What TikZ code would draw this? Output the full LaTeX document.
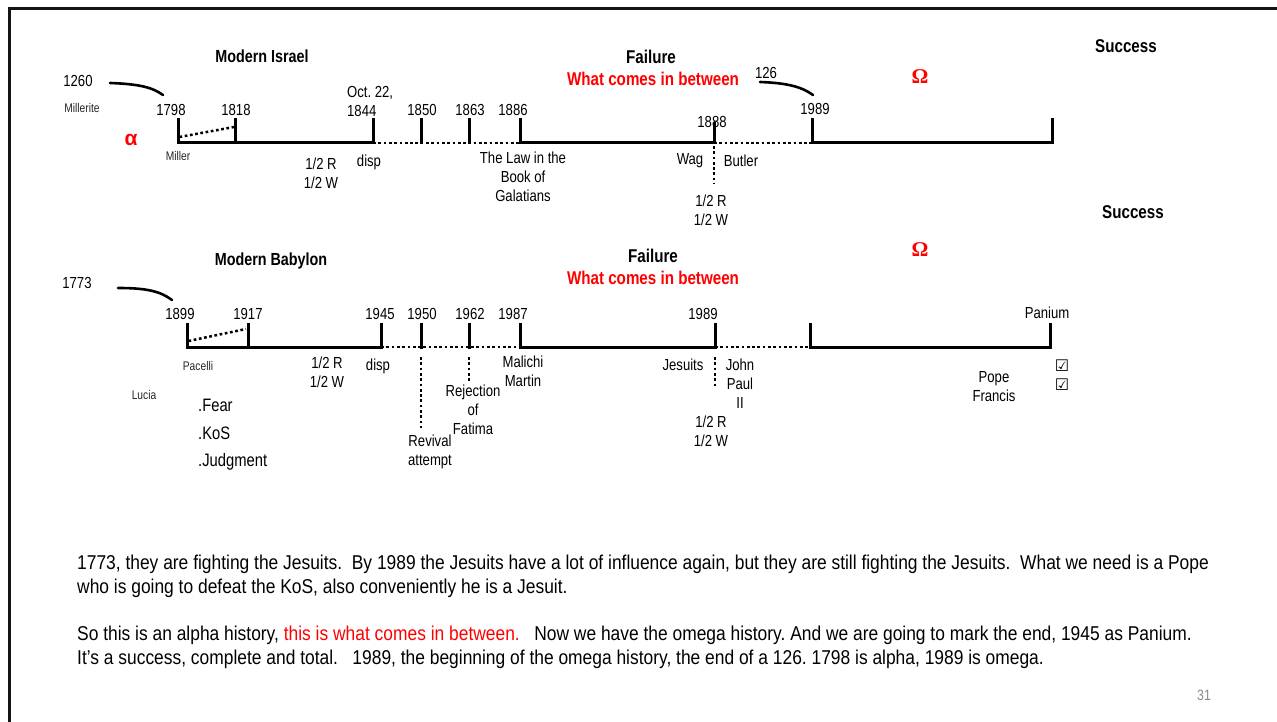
\documentclass[tikz,border=0pt]{standalone}
\usepackage{fontspec}
\setmainfont{Liberation Sans}[FakeStretch=0.82]
\newfontfamily\bodyfont{Liberation Sans}[FakeStretch=0.87]
\newfontfamily\symfont{DejaVu Sans}
\newfontfamily\grk{Liberation Serif}
\newfontfamily\alphafont{Liberation Sans}
\definecolor{hred}{RGB}{255,0,0}
\definecolor{numgray}{RGB}{137,137,137}
\definecolor{framec}{RGB}{20,20,20}
\begin{document}
\frenchspacing
\begin{tikzpicture}[x=1pt,y=-1pt,
  lab/.style={inner sep=0pt, font=\fontsize{16}{19}\selectfont, align=center},
  sml/.style={inner sep=0pt, font=\fontsize{12.5}{15}\selectfont, text=black!85},
  hdr/.style={inner sep=0pt, font=\bfseries\fontsize{17.5}{20}\selectfont},
  hdrb/.style={inner sep=0pt, font=\bfseries\fontsize{18.5}{21}\selectfont},
  redhdr/.style={hdrb, text=hred},
  bigl/.style={inner sep=0pt, font=\fontsize{18}{21}\selectfont, anchor=west},
  bodyt/.style={inner sep=0pt, font=\bodyfont\fontsize{20}{24}\selectfont, anchor=base west},
  tline/.style={line width=3pt, line cap=rect},
  dotl/.style={line width=2.7pt, dash pattern=on 2.7pt off 2.6pt},
  hand/.style={line width=2.6pt, line cap=round},
  greek/.style={inner sep=0pt, text=hred, font=\grk\bfseries\fontsize{21}{24}\selectfont},
  alph/.style={inner sep=0pt, text=hred, font=\alphafont\bfseries\fontsize{21}{24}\selectfont},
  chk/.style={inner sep=0pt, font=\symfont\fontsize{16}{18}\selectfont},
]
\useasboundingbox (0,0) rectangle (1277,722);
\fill[white] (0,0) rectangle (1277,722);
% frame
\draw[line width=3pt, framec] (9,722) -- (9,8.5) -- (1277,8.5);

% ===== top timeline texts =====
\node[hdr] (mi) at (262,56) {Modern Israel};
\node[hdrb] (f1) at (651,57) {Failure};
\node[redhdr] (w1) at (653,79) {What comes in between};
\node[hdrb] (s1) at (1126,46) {Success};
\node[hdrb] (s2) at (1133,212) {Success};
\node[lab] (n1260) at (78,81) {1260};
\node[sml] (mil) at (82,108) {Millerite};
\node[alph] (alpha) at (131,140) {α};
\node[lab] (y1798) at (171,110) {1798};
\node[lab] (y1818) at (236,110) {1818};
\node[lab, align=left, anchor=west] (y1844) at (347,101) {Oct. 22,\\1844};
\node[lab] (y1850) at (422,110) {1850};
\node[lab] (y1863) at (470,110) {1863};
\node[lab] (y1886) at (513,110) {1886};
\node[lab] (y1888) at (712,122) {1888};
\node[lab] (y1989a) at (815,109) {1989};
\node[lab] (n126) at (766,73) {126};
\node[greek] (om1) at (920,77) {Ω};
\node[sml] (miller) at (178,156) {Miller};
\node[lab] (hr1) at (321,173) {1/2 R\\1/2 W};
\node[lab] (disp1) at (369,162) {disp};
\node[lab] (law) at (523,177) {The Law in the\\Book of\\Galatians};
\node[lab] (wag) at (690,161) {Wag};
\node[lab] (butler) at (741,161) {Butler};
\node[lab] (hr2) at (711,210) {1/2 R\\1/2 W};

% ===== top timeline lines =====
\coordinate (a0) at (178,143);
\coordinate (a1) at (235,143);
\coordinate (a2) at (373,143);
\coordinate (a3) at (421,143);
\coordinate (a4) at (469,143);
\coordinate (a5) at (520,143);
\coordinate (a6) at (714,143);
\coordinate (a7) at (812,143);
\coordinate (a8) at (1052,143);
\draw[tline] (a0) -- (a2);
\draw[dotl] (a2) -- (a5);
\draw[tline] (a5) -- (a6);
\draw[dotl] (a6) -- (a7);
\draw[tline] (a7) -- (a8);
\foreach \p in {a0,a1,a2,a3,a4,a5,a7,a8} \draw[tline] (\p) -- ++(0,-23);
\draw[tline] (a6) -- ++(0,-19);
\draw[dotl, line width=2.5pt] (179.5,137) -- (234,127);
\draw[dotl] (a6) ++(0,3) -- ++(0,38);
\coordinate (c1s) at (110,83); \coordinate (c1e) at (163,95);
\draw[hand] (c1s) .. controls (138,84) and (152,87) .. (c1e);
\coordinate (c2s) at (760,82); \coordinate (c2e) at (813,95);
\draw[hand] (c2s) .. controls (788,83) and (802,87) .. (c2e);

% ===== bottom timeline texts =====
\node[hdr] (mb) at (271,261) {Modern Babylon};
\node[hdrb] (f2) at (653,256) {Failure};
\node[redhdr] (w2) at (653,278) {What comes in between};
\node[greek] (om2) at (920,250) {Ω};
\node[lab] (n1773) at (77,283) {1773};
\node[lab] (y1899) at (180,314) {1899};
\node[lab] (y1917) at (248,314) {1917};
\node[lab] (y1945) at (380,314) {1945};
\node[lab] (y1950) at (422,314) {1950};
\node[lab] (y1962) at (470,314) {1962};
\node[lab] (y1987) at (513,314) {1987};
\node[lab] (y1989b) at (703,314) {1989};
\node[lab] (panium) at (1047,313) {Panium};
\node[sml] (pacelli) at (198,366) {Pacelli};
\node[sml] (lucia) at (144,395) {Lucia};
\node[bigl] (fear) at (198,405) {.Fear};
\node[bigl] (kos) at (198,433) {.KoS};
\node[bigl] (judg) at (198,462) {.Judgment};
\node[lab] (hr3) at (327,372) {1/2 R\\1/2 W};
\node[lab] (disp2) at (378,366) {disp};
\node[lab] (rev) at (430,452) {Revival\\attempt};
\node[lab] (rej) at (473,410) {Rejection\\of\\Fatima};
\node[lab] (mal) at (523,371) {Malichi\\Martin};
\node[lab] (jes) at (683,365) {Jesuits};
\node[lab] (jp) at (740,384) {John\\Paul\\II};
\node[lab] (hr4) at (711,431) {1/2 R\\1/2 W};
\node[lab] (pope) at (994,387) {Pope\\Francis};
\node[chk] (ck1) at (1062,366) {☑};
\node[chk] (ck2) at (1062,385) {☑};

% ===== bottom timeline lines =====
\coordinate (b0) at (187,347);
\coordinate (b1) at (248,347);
\coordinate (b2) at (381,347);
\coordinate (b3) at (421,347);
\coordinate (b4) at (469,347);
\coordinate (b5) at (520,347);
\coordinate (b6) at (715,347);
\coordinate (b7) at (810,347);
\coordinate (b8) at (1050,347);
\draw[tline] (b0) -- (b2);
\draw[dotl] (b2) -- (b5);
\draw[tline] (b5) -- (b6);
\draw[dotl] (b6) -- (b7);
\draw[tline] (b7) -- (b8);
\foreach \p in {b0,b1,b2,b3,b4,b5,b6,b7,b8} \draw[tline] (\p) -- ++(0,-23);
\draw[dotl, line width=2.5pt] (188.5,341) -- (246,329);
\draw[dotl] (421,357) -- (421,428);
\draw[dotl] (469,357) -- (469,382);
\draw[dotl] (715,357) -- (715,387);
\coordinate (c3s) at (118,288); \coordinate (c3e) at (172,300);
\draw[hand] (c3s) .. controls (146,288) and (160,291) .. (c3e);

% ===== body text =====
\node[bodyt] (t1) at (77,569) {1773, they are fighting the Jesuits.\ \ By 1989 the Jesuits have a lot of influence again, but they are still fighting the Jesuits.\ \ What we need is a Pope};
\node[bodyt] (t2) at (77,593) {who is going to defeat the KoS, also conveniently he is a Jesuit.};
\node[bodyt] (t3) at (77,640) {So this is an alpha history, \textcolor{hred}{this is what comes in between.}\ \ \ Now we have the omega history. And we are going to mark the end, 1945 as Panium.};
\node[bodyt] (t4) at (77,664) {It’s a success, complete and total.\ \ \ 1989, the beginning of the omega history, the end of a 126. 1798 is alpha, 1989 is omega.};
\node[inner sep=0pt, text=numgray, font=\fontsize{15}{17}\selectfont] (pg) at (1204,695) {31};
\end{tikzpicture}
\end{document}
